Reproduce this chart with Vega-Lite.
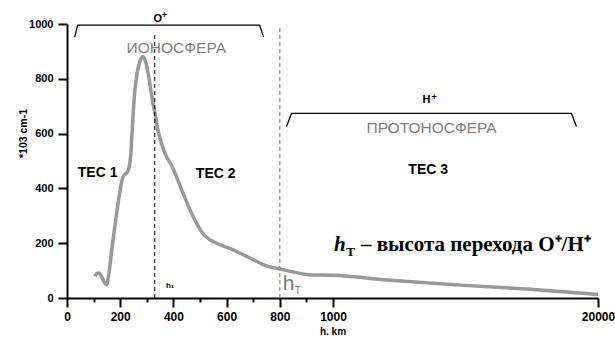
{
  "$schema": "https://vega.github.io/schema/vega-lite/v6.json",
  "width": 531,
  "height": 274,
  "autosize": "none",
  "padding": {"left": 67, "top": 24, "right": 17, "bottom": 40},
  "background": "white",
  "config": {
    "view": {"stroke": null},
    "axis": {"grid": false, "domainColor": "black", "domainWidth": 2, "tickColor": "black", "tickWidth": 2,
             "labelFont": "Liberation Sans", "labelFontWeight": "bold", "labelColor": "black",
             "titleFont": "Liberation Sans", "titleFontWeight": "bold", "titleFontSize": 10, "titleColor": "black"}
  },
  "datasets": {
    "curve": [
      {"h": 104, "n": 79}, {"h": 112, "n": 89}, {"h": 120, "n": 91}, {"h": 129, "n": 81}, {"h": 140, "n": 57},
      {"h": 149, "n": 48}, {"h": 155, "n": 73}, {"h": 161, "n": 115}, {"h": 170, "n": 190}, {"h": 180, "n": 261},
      {"h": 198, "n": 383}, {"h": 211, "n": 443}, {"h": 222, "n": 455}, {"h": 230, "n": 466}, {"h": 240, "n": 525},
      {"h": 243, "n": 577}, {"h": 248, "n": 660}, {"h": 254, "n": 745}, {"h": 261, "n": 805}, {"h": 268, "n": 842},
      {"h": 276, "n": 869}, {"h": 286, "n": 881}, {"h": 296, "n": 860}, {"h": 305, "n": 820}, {"h": 321, "n": 723},
      {"h": 333, "n": 662}, {"h": 342, "n": 613}, {"h": 355, "n": 565}, {"h": 374, "n": 516}, {"h": 392, "n": 486},
      {"h": 411, "n": 444}, {"h": 436, "n": 383}, {"h": 468, "n": 310}, {"h": 505, "n": 243}, {"h": 536, "n": 213},
      {"h": 549, "n": 206}, {"h": 624, "n": 176}, {"h": 700, "n": 140}, {"h": 750, "n": 117}, {"h": 800, "n": 106},
      {"h": 852, "n": 95}, {"h": 908, "n": 85}, {"h": 1000, "n": 83}, {"h": 5096, "n": 65}, {"h": 10131, "n": 47},
      {"h": 15159, "n": 32}, {"h": 20000, "n": 13}
    ],
    "brackets": [
      {"b": "O", "i": 0, "h": 29, "n": 952}, {"b": "O", "i": 1, "h": 40, "n": 996},
      {"b": "O", "i": 2, "h": 724, "n": 996}, {"b": "O", "i": 3, "h": 739, "n": 952},
      {"b": "H", "i": 0, "h": 825, "n": 626}, {"b": "H", "i": 1, "h": 844, "n": 674},
      {"b": "H", "i": 2, "h": 18095, "n": 674}, {"b": "H", "i": 3, "h": 18453, "n": 626}
    ]
  },
  "layer": [
    {
      "data": {"name": "curve"},
      "mark": {"type": "line", "color": "#999999", "strokeWidth": 3.5, "interpolate": "monotone"},
      "encoding": {
        "x": {"field": "h", "type": "quantitative",
              "scale": {"domain": [0, 1000, 20000], "range": [0, 266, 531], "nice": false, "zero": false},
              "axis": {"values": [0, 100, 200, 300, 400, 500, 600, 700, 800, 900, 1000, 20000], "format": "d",
                       "labelExpr": "(datum.value % 200 === 0 || datum.value > 1000) ? datum.label : ''",
                       "tickSize": {"condition": {"test": "datum.value % 200 === 0 || datum.value > 1000", "value": 9}, "value": 4},
                       "labelFontSize": 12, "labelPadding": 4, "labelFlush": false, "labelOverlap": false,
                       "title": "h. km", "titlePadding": 4}},
        "y": {"field": "n", "type": "quantitative",
              "scale": {"domain": [0, 1000], "nice": false},
              "axis": {"values": [0, 100, 200, 300, 400, 500, 600, 700, 800, 900, 1000], "format": "d",
                       "labelExpr": "datum.value % 200 === 0 ? datum.label : ''",
                       "tickSize": {"condition": {"test": "datum.value % 200 === 0", "value": 9}, "value": 4},
                       "labelFontSize": 11, "labelPadding": 5, "labelFlush": false, "labelOverlap": false,
                       "title": "*103 cm-1", "titleFontSize": 10.5, "titleX": -44, "titleY": 109, "titleBaseline": "middle"}}
      }
    },
    {
      "data": {"name": "brackets"},
      "mark": {"type": "line", "color": "black", "strokeWidth": 1.3},
      "encoding": {
        "x": {"field": "h", "type": "quantitative"},
        "y": {"field": "n", "type": "quantitative"},
        "detail": {"field": "b"},
        "order": {"field": "i"}
      }
    },
    {
      "data": {"values": [{"h": 330, "n0": 0, "n1": 967}]},
      "mark": {"type": "rule", "color": "black", "strokeWidth": 1, "strokeDash": [4, 3]},
      "encoding": {
        "x": {"field": "h", "type": "quantitative"},
        "y": {"field": "n0", "type": "quantitative"},
        "y2": {"field": "n1"}
      }
    },
    {
      "data": {"values": [{"h": 800, "n0": 0, "n1": 985}]},
      "mark": {"type": "rule", "color": "#888888", "strokeWidth": 1.2, "strokeDash": [4, 3]},
      "encoding": {
        "x": {"field": "h", "type": "quantitative"},
        "y": {"field": "n0", "type": "quantitative"},
        "y2": {"field": "n1"}
      }
    },
    {
      "data": {"values": [{"h": 341, "n": 1020, "t": "O"}, {"h": 7710, "n": 723, "t": "H"}]},
      "mark": {"type": "text", "font": "Liberation Sans", "fontWeight": "bold", "fontSize": 11, "color": "black", "baseline": "middle"},
      "encoding": {"x": {"field": "h", "type": "quantitative"}, "y": {"field": "n", "type": "quantitative"}, "text": {"field": "t"}}
    },
    {
      "data": {"values": [{"h": 356, "n": 1033, "t": "+"}, {"h": 8060, "n": 735, "t": "+"}]},
      "mark": {"type": "text", "font": "Liberation Sans", "fontWeight": "bold", "fontSize": 9, "color": "black", "align": "left", "baseline": "middle"},
      "encoding": {"x": {"field": "h", "type": "quantitative"}, "y": {"field": "n", "type": "quantitative"}, "text": {"field": "t"}}
    },
    {
      "data": {"values": [{"h": 115, "n": 457, "t": "TEC 1"}, {"h": 559, "n": 452, "t": "TEC 2"}, {"h": 7825, "n": 468, "t": "TEC 3"}]},
      "mark": {"type": "text", "font": "Liberation Sans", "fontWeight": "bold", "fontSize": 14, "color": "black", "baseline": "middle"},
      "encoding": {"x": {"field": "h", "type": "quantitative"}, "y": {"field": "n", "type": "quantitative"}, "text": {"field": "t"}}
    },
    {
      "data": {"values": [{"h": 411, "n": 912, "t": "ИОНОСФЕРА"}, {"h": 8069, "n": 620, "t": "ПРОТОНОСФЕРА"}]},
      "mark": {"type": "text", "font": "Liberation Sans", "fontSize": 15.5, "color": "#7f7f7f", "baseline": "middle"},
      "encoding": {"x": {"field": "h", "type": "quantitative"}, "y": {"field": "n", "type": "quantitative"}, "text": {"field": "t"}}
    },
    {
      "data": {"values": [{"h": 1072, "n": 170, "t": "h"}]},
      "mark": {"type": "text", "font": "Liberation Serif", "fontWeight": "bold", "fontStyle": "italic", "fontSize": 21, "color": "black", "align": "left", "baseline": "alphabetic"},
      "encoding": {"x": {"field": "h", "type": "quantitative"}, "y": {"field": "n", "type": "quantitative"}, "text": {"field": "t"}}
    },
    {
      "data": {"values": [{"h": 1930, "n": 155, "t": "T"}]},
      "mark": {"type": "text", "font": "Liberation Serif", "fontWeight": "bold", "fontSize": 13.5, "color": "black", "align": "left", "baseline": "alphabetic"},
      "encoding": {"x": {"field": "h", "type": "quantitative"}, "y": {"field": "n", "type": "quantitative"}, "text": {"field": "t"}}
    },
    {
      "data": {"values": [{"h": 3000, "n": 170, "t": "– высота перехода O⁺/H⁺"}]},
      "mark": {"type": "text", "font": "Liberation Serif", "fontWeight": "bold", "fontSize": 21, "color": "black", "align": "left", "baseline": "alphabetic"},
      "encoding": {"x": {"field": "h", "type": "quantitative"}, "y": {"field": "n", "type": "quantitative"}, "text": {"field": "t"}}
    },
    {
      "data": {"values": [{"h": 372, "n": 45, "t": "h₁"}]},
      "mark": {"type": "text", "font": "Liberation Sans", "fontWeight": "bold", "fontSize": 8, "color": "black", "align": "left", "baseline": "middle"},
      "encoding": {"x": {"field": "h", "type": "quantitative"}, "y": {"field": "n", "type": "quantitative"}, "text": {"field": "t"}}
    },
    {
      "data": {"values": [{"h": 811, "n": 28, "t": "h"}]},
      "mark": {"type": "text", "font": "Liberation Sans", "fontSize": 21, "color": "#7a7a7a", "align": "left", "baseline": "alphabetic"},
      "encoding": {"x": {"field": "h", "type": "quantitative"}, "y": {"field": "n", "type": "quantitative"}, "text": {"field": "t"}}
    },
    {
      "data": {"values": [{"h": 856, "n": 16, "t": "T"}]},
      "mark": {"type": "text", "font": "Liberation Sans", "fontSize": 10, "color": "#7a7a7a", "align": "left", "baseline": "alphabetic"},
      "encoding": {"x": {"field": "h", "type": "quantitative"}, "y": {"field": "n", "type": "quantitative"}, "text": {"field": "t"}}
    }
  ]
}
